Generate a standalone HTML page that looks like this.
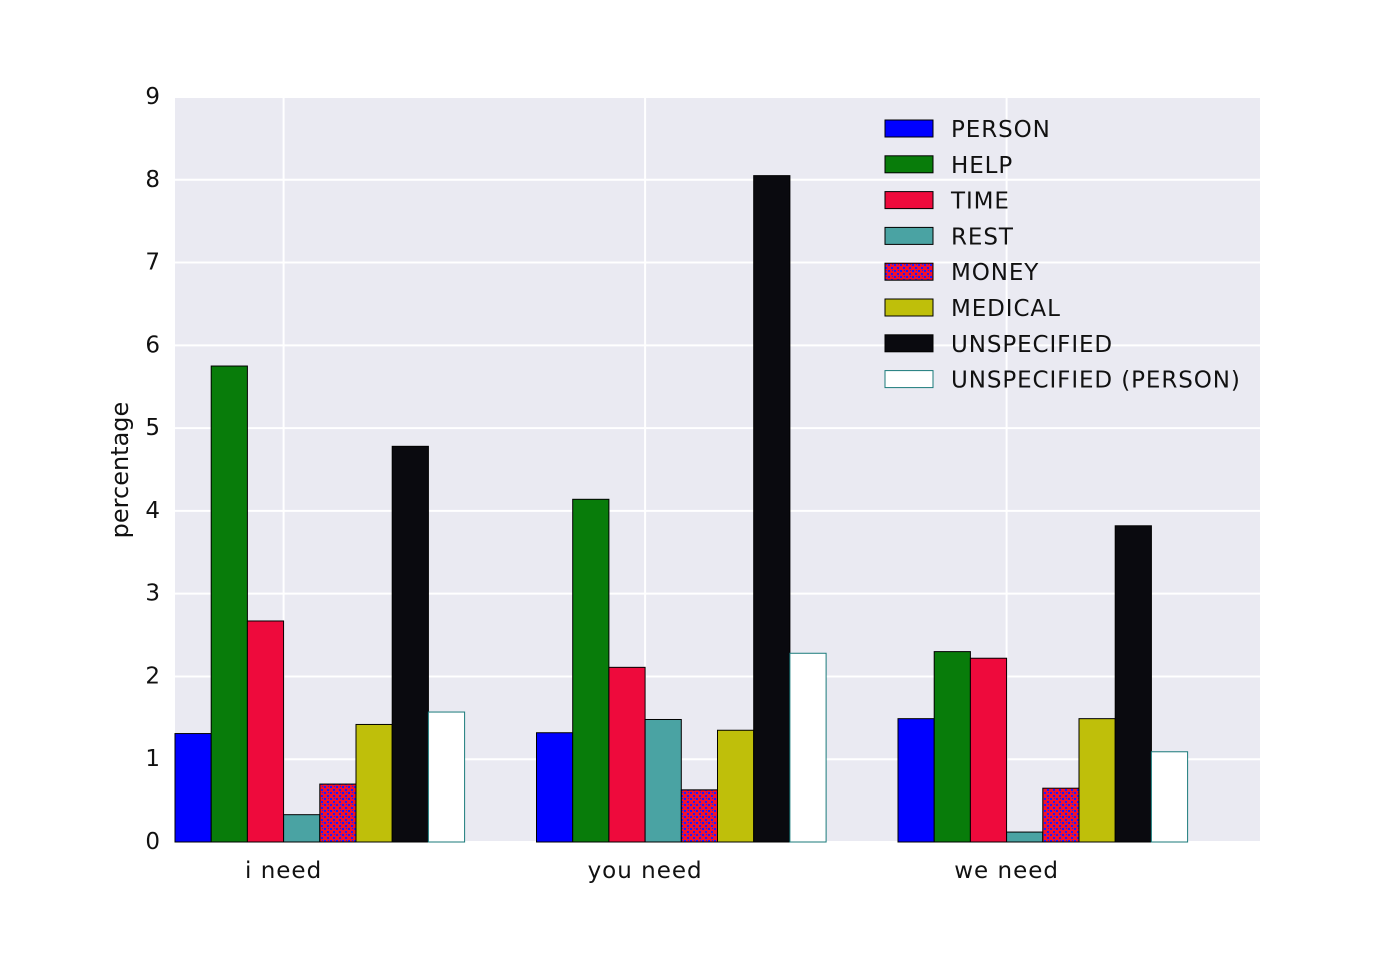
<!DOCTYPE html>
<html><head><meta charset="utf-8"><style>
body{margin:0;background:#fff}
svg text{font-family:"DejaVu Sans","Liberation Sans",sans-serif;fill:#111}
</style></head><body>
<svg width="1400" height="963" xmlns="http://www.w3.org/2000/svg">
<defs>
<pattern id="money" width="6" height="6" patternUnits="userSpaceOnUse">
<rect width="6" height="6" fill="#ee1133"/>
<rect x="0" y="0" width="2" height="2" fill="#1a1aff"/>
<rect x="3" y="3" width="2" height="2" fill="#1a1aff"/>
<rect x="4" y="0" width="1" height="1" fill="#1a1aff"/>
</pattern>
</defs>
<rect x="175" y="97" width="1085" height="745" fill="#eaeaf2"/>
<g id="grid"></g>
<g id="bars"></g>
<g id="ticks"></g>
<text x="128" y="470" font-size="24" text-anchor="middle" transform="rotate(-90 128 470)">percentage</text>
<g id="legend"></g>
</svg>
<script>
const categories = ["i need","you need","we need"];
const seriesNames = ["PERSON","HELP","TIME","REST","MONEY","MEDICAL","UNSPECIFIED","UNSPECIFIED (PERSON)"];
const personVals = [1.31, 1.32, 1.49];
const helpVals = [5.75, 4.14, 2.30];
const timeVals = [2.67, 2.11, 2.22];
const restVals = [0.33, 1.48, 0.12];
const moneyVals = [0.70, 0.63, 0.65];
const medicalVals = [1.42, 1.35, 1.49];
const unspecVals = [4.78, 8.05, 3.82];
const unspecPersonVals = [1.57, 2.28, 1.09];
const yTicks = [0,1,2,3,4,5,6,7,8,9];

const series=[personVals,helpVals,timeVals,restVals,moneyVals,medicalVals,unspecVals,unspecPersonVals];
const colors=["#0000ff","#087c0a","#ee0a3c","#4aa3a3","url(#money)","#bfbf0a","#0a0a0f","#ffffff"];
const NS="http://www.w3.org/2000/svg";
const X0=175,X1=1260,Y0=842,Y1=97,BW=36.2,GS=361.5;
const y=v=>Y0-(v/9)*(Y0-Y1);
const gx=i=>X0+i*GS;
function mk(tag,at,parent){const e=document.createElementNS(NS,tag);for(const k in at)e.setAttribute(k,at[k]);document.getElementById(parent).appendChild(e);return e;}
yTicks.forEach(t=>{
  const l=mk('line',{x1:X0,x2:X1,y1:y(t),y2:y(t),stroke:'#fff','stroke-width':2},'grid');
  
  
  const tx=mk('text',{x:160,y:y(t)+7,'font-size':23,'text-anchor':'end'},'ticks');
  tx.textContent=t;
  
  
});
categories.forEach((c,i)=>{
  const cx=gx(i)+3*BW;
  const l=mk('line',{x1:cx,x2:cx,y1:Y1,y2:Y0,stroke:'#fff','stroke-width':2},'grid');
  
  
  const tx=mk('text',{x:cx,y:878,'font-size':23,'text-anchor':'middle','letter-spacing':1},'ticks');
  tx.textContent=c;
  
  
  series.forEach((s,j)=>{
    const r=mk('rect',{x:gx(i)+j*BW,y:y(s[i]),width:BW,height:Y0-y(s[i]),fill:colors[j],stroke:j==7?'#1a7a7a':'#000','stroke-width':1},'bars');
    
    
  });
});
seriesNames.forEach((n,j)=>{
  const yy=128+j*35.8;
  const r=mk('rect',{x:885,y:yy-8,width:48,height:17,fill:colors[j],stroke:j==7?'#1a7a7a':'#000','stroke-width':1},'legend');
  
  
  const t=mk('text',{x:951,y:yy+9,'font-size':23,'letter-spacing':0.9},'legend');
  t.textContent=n;
  
  
});
</script>
</body></html>
